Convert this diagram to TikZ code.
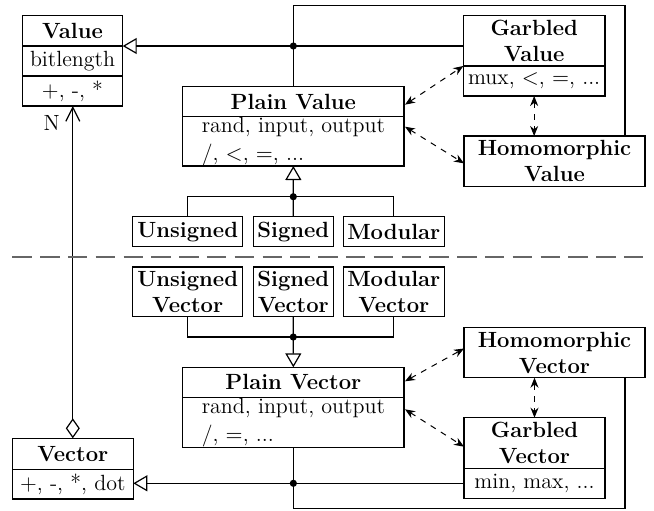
\documentclass[tikz,border=0pt]{standalone}
\usetikzlibrary{arrows.meta,calc}
\begin{document}
\begin{tikzpicture}[x=0.5pt,y=-0.5pt,
  txt/.style={font=\fontsize{11}{13}\selectfont},
  hdr/.style={font=\fontsize{11}{13}\selectfont\bfseries},
  box/.style={draw, line width=0.65pt, inner sep=0pt, outer sep=0pt, anchor=north west, align=center, txt},
  inh/.style={line width=0.6pt, -{Triangle[open,length=7pt,width=8pt]}},
  link/.style={line width=0.6pt},
  agg/.style={line width=0.6pt, {Diamond[open,length=10pt,width=7pt]}-{Straight Barb[length=7pt,width=7pt]}},
  dep/.style={line width=0.5pt, dashed, {Stealth[length=5pt,width=4pt]}-{Stealth[length=5pt,width=4pt]}},
  jdot/.style={circle, fill, inner sep=0pt, minimum size=3.6pt},
  sep/.style={draw=black!60, line width=0.9pt, dash pattern=on 9.7pt off 4.2pt},
]
\useasboundingbox (0,0) rectangle (654,510);

% ---- top half ----
\node[box, hdr, minimum width=50.2pt, minimum height=15.35pt] (vh) at (22.3,15.3) {Value};
\node[box, minimum width=50.2pt, minimum height=15pt] (vb1) at (vh.south west) {bitlength};
\node[box, minimum width=50.2pt, minimum height=15pt] (vb2) at (vb1.south west) {+, -, *};

\node[box, hdr, minimum width=110.65pt, minimum height=15pt] (pvh) at (182.7,86.7) {Plain Value};
\node[box, minimum width=110.65pt, minimum height=24.65pt, align=left, font=\fontsize{11}{14}\selectfont] (pvb) at (pvh.south west) {rand, input, output\\/, $<$, $=$, ...};

\node[box, hdr, minimum width=70.85pt, minimum height=25.35pt] (gvh) at (463.3,15.3) {Garbled\\Value};
\node[box, minimum width=70.85pt, minimum height=15pt] (gvb) at (gvh.south west) {mux, $<$, $=$, ...};

\node[box, hdr, minimum width=90.5pt, minimum height=25.35pt] (hv) at (464,136) {Homomorphic\\Value};

\node[box, hdr, minimum width=55pt, minimum height=15pt] (us) at (132.7,216.7) {Unsigned};
\node[box, hdr, minimum width=40pt, minimum height=15pt] (sg) at (253.3,216.7) {Signed};
\node[box, hdr, minimum width=50.5pt, minimum height=15pt] (md) at (343.3,216.7) {Modular};

% ---- bottom half ----
\node[box, hdr, minimum width=55pt, minimum height=24.85pt] (usv) at (132.7,267) {Unsigned\\Vector};
\node[box, hdr, minimum width=40pt, minimum height=24.85pt] (sgv) at (253.3,267) {Signed\\Vector};
\node[box, hdr, minimum width=50.5pt, minimum height=24.85pt] (mdv) at (343.3,267) {Modular\\Vector};

\node[box, hdr, minimum width=110.65pt, minimum height=15pt] (pch) at (182.7,367.3) {Plain Vector};
\node[box, minimum width=110.65pt, minimum height=25pt, align=left, font=\fontsize{11}{14}\selectfont] (pcb) at (pch.south west) {rand, input, output\\/, $=$, ...};

\node[box, hdr, minimum width=90.5pt, minimum height=25.2pt] (hcv) at (464,327.3) {Homomorphic\\Vector};
\node[box, hdr, minimum width=70.5pt, minimum height=25.3pt] (gch) at (464,417.7) {Garbled\\Vector};
\node[box, minimum width=70.5pt, minimum height=15pt] (gcb) at (gch.south west) {min, max, ...};

\node[box, hdr, minimum width=60.5pt, minimum height=15.5pt] (vch) at (12.3,438.3) {Vector};
\node[box, minimum width=60.5pt, minimum height=14.85pt] (vcb) at (vch.south west) {+, -, *, dot};

% ---- helper coordinates ----
\coordinate (topR) at (625,5.3);
\coordinate (botR) at (625,508.3);
\coordinate (J2) at (293.3,196.7);
\coordinate (J3) at (293.3,337);
\coordinate (dl) at (12.3,257.3);
\coordinate (dr) at (645,257.3);

% ---- connectors, top ----
\draw[link] (pvh.north) |- (topR) -- (topR |- hv.north);
\draw[inh] (gvh.west |- vb1.north) -- (vb1.north east);
\node[jdot] (d1) at (pvh.north |- vb1.north) {};
\draw[inh] (sg.north) -- (pvb.south);
\draw[link] (us.north) |- (J2) -| (md.north);
\node[jdot] (d2) at (J2) {};

\draw[dep] ($(pvh.east)+(1,3)$) -- (gvh.south west);
\draw[dep] ($(pvb.north east)+(1,10)$) -- ($(hv.west)+(0,2)$);
\draw[dep] (gvb.south) -- (gvb.south |- hv.north);

% ---- aggregation ----
\draw[agg] (vch.north) -- (vch.north |- vb2.south);
\node[txt] (nl) at (51.7,123.3) {N};

% ---- separator ----
\draw[sep] (dl) -- (dr);

% ---- connectors, bottom ----
\draw[inh] (sgv.south) -- (pch.north);
\draw[link] (usv.south) |- (J3) -| (mdv.south);
\node[jdot] (d3) at (J3) {};
\draw[link] (pcb.south) |- (botR) -- (botR |- hcv.south);
\draw[inh] (gcb.west) -- (gcb.west -| vcb.east);
\node[jdot] (d4) at (pcb.south |- gcb.west) {};

\draw[dep] ($(pch.east)+(1,-1)$) -- ($(hcv.west)+(0,-4)$);
\draw[dep] ($(pcb.north east)+(1,12)$) -- ($(gch.west)+(0,3.7)$);
\draw[dep] (gch.north |- hcv.south) -- (gch.north);
\end{tikzpicture}
\end{document}
